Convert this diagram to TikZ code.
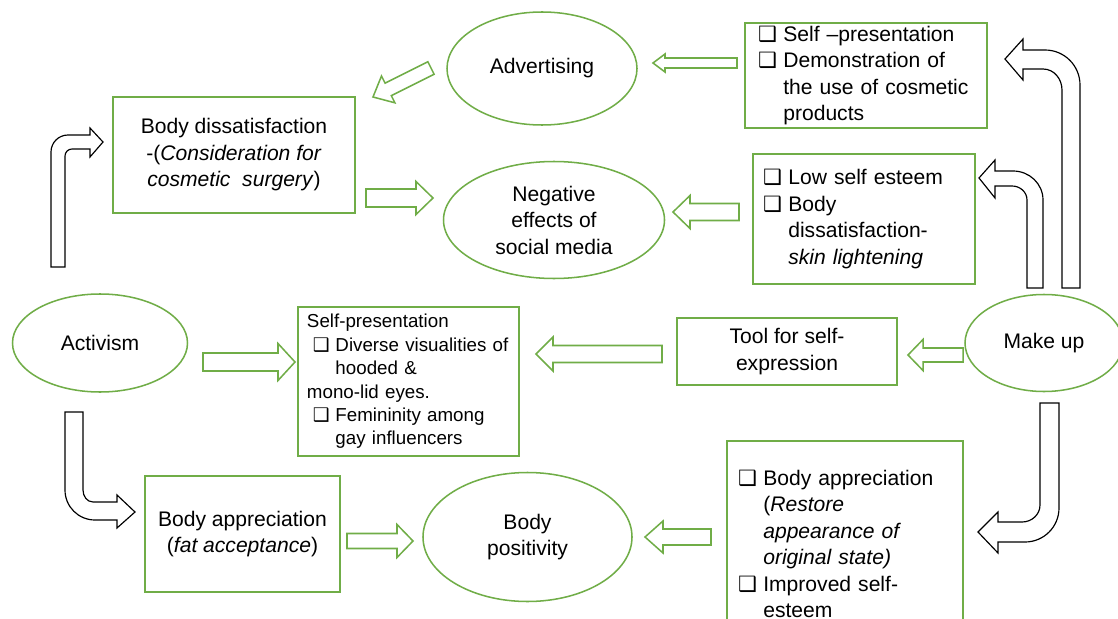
\documentclass[tikz,border=0pt]{standalone}
\usepackage{fontspec}
\setmainfont{Liberation Sans}
\newfontfamily\symf{DejaVu Sans}
\usetikzlibrary{shapes.geometric,calc}
\definecolor{ogreen}{RGB}{112,173,71}

\newcommand{\cb}{\makebox[1.2em][l]{\symf ❑}}
\newcommand{\garrow}[5]{%
  \coordinate (ga-t) at (#1);
  \coordinate (ga-p) at (#2);
  \coordinate (ga-h) at ($(ga-p)!#5!(ga-t)$);
  \draw[blk] ($(ga-t)!#3!90:(ga-p)$) -- ($(ga-h)!#3!90:(ga-p)$) -- ($(ga-h)!#4!90:(ga-p)$) -- (ga-p)
    -- ($(ga-h)!#4!-90:(ga-p)$) -- ($(ga-h)!#3!-90:(ga-p)$) -- ($(ga-t)!#3!-90:(ga-p)$) -- cycle;
}

\begin{document}
\begin{tikzpicture}[x=0.03cm,y=-0.03cm,font=\fontsize{18pt}{22.6pt}\selectfont,
  box/.style={draw=ogreen,line width=1.3pt,inner ysep=0pt},
  ell/.style={ellipse,draw=ogreen,line width=1.3pt,inner sep=0pt,align=center},
  blk/.style={draw=ogreen,line width=1.3pt,fill=white},
  bent/.style={draw=black,line width=1pt,fill=white}]
\clip (0,0) rectangle (1118,619);
\fill[white] (0,0) rectangle (1118,619);

\node[ell,minimum width=5.7cm,minimum height=3.39cm] (adv) at (542,68.5) {Advertising};
\node[ell,minimum width=6.63cm,minimum height=3.51cm] (neg) at (554,220) {Negative\\effects of\\social media};
\node[ell,minimum width=5.25cm,minimum height=2.94cm] (act) at (100,343) {Activism};
\node[ell,minimum width=4.74cm,minimum height=2.91cm] (mk) at (1044,343) {Make up};
\node[ell,minimum width=6.27cm,minimum height=3.87cm] (pos) at (527.5,537) {Body\\positivity};

\node[box,minimum width=7.26cm,minimum height=3.48cm,align=center] (dis) at (234,155)
  {Body dissatisfaction\\-(\textit{Consideration for}\\\textit{cosmetic\ \ surgery})};
\node[box,minimum height=3.15cm,text width=7.02cm,inner xsep=0.12cm,align=left] (pres) at (866,75.5)
  {\leftskip=0.27cm\relax \cb Self –presentation\\\cb Demonstration of\\\hspace*{1.2em}\mbox{the use of cosmetic}\\\hspace*{1.2em}products\par};
\node[box,minimum height=3.9cm,text width=6.42cm,inner xsep=0.12cm,align=left] (low) at (864,219)
  {\leftskip=0.18cm\relax \cb Low self esteem\\\cb Body\\\hspace*{1.2em}dissatisfaction-\\\hspace*{1.2em}\textit{skin lightening}\par};
\node[box,minimum height=4.47cm,text width=6.39cm,inner xsep=0.12cm,align=left,font=\fontsize{16pt}{20pt}\selectfont] (vis) at (408.5,381.5)
  {\leftskip=0.15cm\relax Self-presentation\\\hspace*{0.18cm}\cb\mbox{Diverse visualities of}\\\hspace*{0.18cm}\hspace*{1.2em}hooded \&\\mono-lid eyes.\\\hspace*{0.18cm}\cb Femininity among\\\hspace*{0.18cm}\hspace*{1.2em}gay influencers\par};
\node[box,minimum width=6.6cm,minimum height=2.01cm,align=center] (tool) at (787,351.5) {Tool for self-\\expression};
\node[box,minimum width=5.85cm,minimum height=3.48cm,align=center] (app) at (242.5,534) {Body appreciation\\(\textit{fat acceptance})};
\node[box,minimum height=6.18cm,text width=6.84cm,inner xsep=0.12cm,align=left] (rest) at (845,544)
  {\leftskip=0.21cm\relax \cb Body appreciation\\\hspace*{1.2em}(\textit{Restore}\\\hspace*{1.2em}\textit{appearance of}\\\hspace*{1.2em}\textit{original state)}\\\cb Improved self-\\\hspace*{1.2em}esteem\par};

\garrow{431,68}{373,97}{0.21cm}{0.45cm}{0.51cm}
\garrow{737,63}{653,63}{0.15cm}{0.27cm}{0.36cm}
\garrow{366,198}{433,198}{0.27cm}{0.495cm}{0.51cm}
\garrow{739,212}{673,212}{0.255cm}{0.495cm}{0.51cm}
\garrow{203,362}{295,362}{0.27cm}{0.555cm}{0.51cm}
\garrow{662,354}{536,354}{0.255cm}{0.51cm}{0.51cm}
\garrow{963,355}{908,355}{0.21cm}{0.465cm}{0.45cm}
\garrow{347,541}{413,541}{0.225cm}{0.495cm}{0.48cm}
\garrow{711,537}{645,537}{0.24cm}{0.48cm}{0.54cm}

\draw[bent] (51,267) -- (51,152) to[out=90,in=180] (68,135) -- (90,135) -- (90,128) -- (103,142) -- (90,157) -- (90,149) -- (72,149) to[out=180,in=90] (65,156) -- (65,267) -- cycle;
\draw[bent] (1062,288) -- (1062,90) to[out=90,in=0] (1043,69) -- (1023,69) -- (1023,80) -- (1005,59) -- (1023,39) -- (1023,50) -- (1045,50) to[out=0,in=90] (1080,85) -- (1080,288) -- cycle;
\draw[bent] (1027,288) -- (1027,200) to[out=90,in=0] (1012,186) -- (995,186) -- (995,198) -- (979,178) -- (995,160) -- (995,171) -- (1013,171) to[out=0,in=90] (1043,200) -- (1043,288) -- cycle;
\draw[bent] (65,412) -- (65,490) to[out=270,in=180] (95,520) -- (117,520) -- (117,528) -- (135,512) -- (117,495) -- (117,502) -- (93,502) to[out=180,in=270] (83,490) -- (83,412) -- cycle;
\draw[bent] (1040,403) -- (1040,505) to[out=270,in=0] (1022,522) -- (998,522) -- (998,512) -- (978,532) -- (998,553) -- (998,542) -- (1025,542) to[out=0,in=270] (1059,508) -- (1059,403) -- cycle;
\end{tikzpicture}
\end{document}
